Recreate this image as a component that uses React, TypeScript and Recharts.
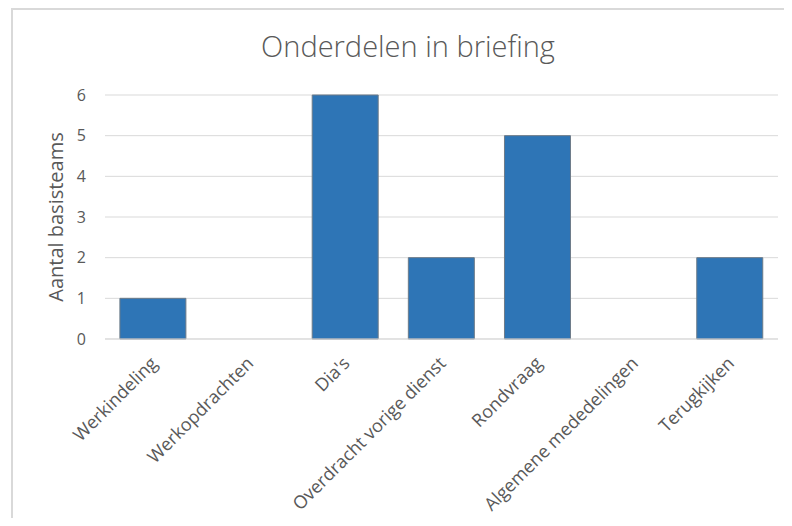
import { Bar, BarChart, CartesianGrid, XAxis, YAxis } from 'recharts';

const categories = [
  'Werkindeling',
  'Werkopdrachten',
  "Dia's",
  'Overdracht vorige dienst',
  'Rondvraag',
  'Algemene mededelingen',
  'Terugkijken',
];
const teamCounts = [1, 0, 6, 2, 5, 0, 2];
const yTicks = [0, 1, 2, 3, 4, 5, 6];

const data = categories.map((name, i) => ({ name, value: teamCounts[i] }));

const FONT = '"Open Sans", sans-serif';
const TEXT = '#595959';
const GRID = '#d9d9d9';

const AngledTick = ({ x, y, payload }: any) => {
  const ax = Number(x) + 1;
  const ay = Number(y) + 13;
  return (
    <text
      x={ax}
      y={ay}
      dy="0.35em"
      textAnchor="end"
      transform={`rotate(-45 ${ax} ${ay})`}
      fill={TEXT}
      fontSize={18}
      fontFamily={FONT}
    >
      {payload.value}
    </text>
  );
};

const App = () => {
  return (
    <div
      style={{
        marginLeft: 3,
        width: 771,
        height: 508,
        overflow: 'hidden',
        borderTop: `2px solid ${GRID}`,
        borderLeft: `2px solid ${GRID}`,
      }}
    >
      <style>{'html, body { overflow: hidden; }'}</style>
      <BarChart
        width={771}
        height={508}
        data={data}
        barCategoryGap="15.5%"
        margin={{ top: 85, right: 6, left: 32, bottom: 0 }}
      >
        <text
          x={395}
          y={39}
          textAnchor="middle"
          dominantBaseline="middle"
          fill={TEXT}
          fontSize={29}
          fontFamily={FONT}
          fontWeight={300}
        >
          Onderdelen in briefing
        </text>
        <CartesianGrid vertical={false} stroke={GRID} />
        <XAxis
          dataKey="name"
          interval={0}
          tickLine={false}
          axisLine={{ stroke: GRID }}
          tick={<AngledTick />}
          height={179}
        />
        <YAxis
          domain={[0, 6]}
          ticks={yTicks}
          width={60}
          tickLine={false}
          axisLine={false}
          tickMargin={13}
          tick={{ fill: TEXT, fontSize: 16, fontFamily: FONT }}
          label={{
            value: 'Aantal basisteams',
            angle: -90,
            position: 'insideLeft',
            dx: 6,
            style: { textAnchor: 'middle', fill: TEXT, fontSize: 20, fontFamily: FONT },
          }}
        />
        <Bar dataKey="value" fill="#2e75b6" stroke="#6d7b88" strokeWidth={1} isAnimationActive={false} />
      </BarChart>
    </div>
  );
};

export default App;
